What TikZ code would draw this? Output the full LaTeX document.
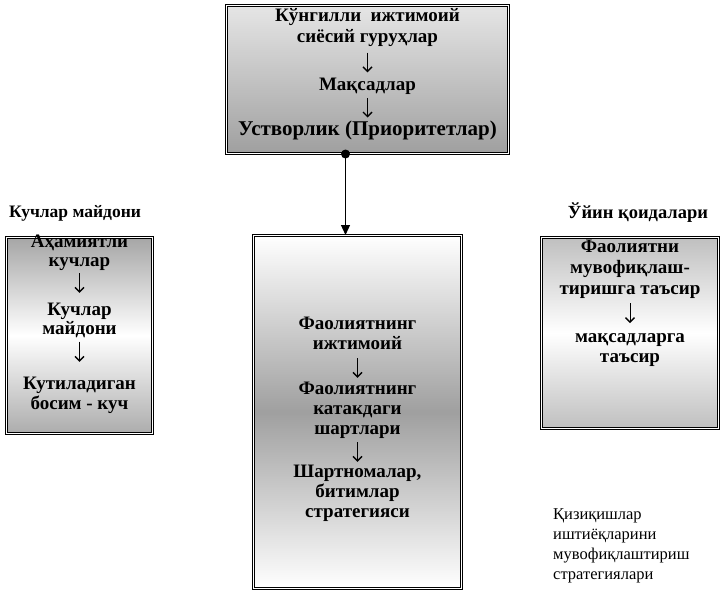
\documentclass[tikz,border=0pt]{standalone}
\usepackage{fontspec}
\setmainfont{Liberation Serif}
\usetikzlibrary{arrows.meta}
\begin{document}
\begin{tikzpicture}[x=1pt,y=-1pt,
  panel/.style={draw=black, line width=1pt, double=white, double distance=1.1pt,
    rectangle, inner sep=0pt, anchor=north west},
  body/.style={align=center, inner sep=0pt, anchor=north},
  flow/.style={line width=1pt, -{Straight Barb[length=4.5pt,width=9pt,line width=1.4pt]}},
  heading/.style={font=\bfseries\fontsize{17.5}{20}\selectfont, inner sep=0pt},
  note/.style={font=\fontsize{16.5}{20}\selectfont, align=left, inner sep=0pt, anchor=north west}]
\useasboundingbox[fill=white] (0,0) rectangle (722,590);

% panels
\node[panel, minimum width=282pt, minimum height=148pt, top color=gray!20, bottom color=gray!75] (top) at (226,5) {};
\node[panel, minimum width=146pt, minimum height=196pt, top color=gray!70, bottom color=gray!65, middle color=white] (left) at (6,237) {};
\node[panel, minimum width=208pt, minimum height=353pt, top color=white, bottom color=white, middle color=gray!75] (mid) at (253,235) {};
\node[panel, minimum width=177pt, minimum height=191pt, top color=gray!50, bottom color=gray!50, middle color=white] (right) at (541,237) {};

% top panel: groups, aims, priorities
\begin{scope}[every node/.append style={body, font=\bfseries\fontsize{19}{21}\selectfont}]
  \node (groups) at (top.north |- 0,8) {Кўнгилли\ \ ижтимоий\\ сиёсий гуруҳлар};
  \node (aims) at (top.north |- 0,77.4) {Мақсадлар};
  \node[font=\bfseries\fontsize{21}{23}\selectfont] (prior) at (top.north |- 0,121) {Устворлик (Приоритетлар)};
\end{scope}
\draw[flow, shorten <=6pt, shorten >=5pt] (groups.south) -- (aims.north);
\draw[flow, shorten <=4pt, shorten >=3.5pt] (aims.south) -- (prior.north);

% left panel: force field
\begin{scope}[every node/.append style={body, font=\bfseries\fontsize{19}{19}\selectfont}]
  \node (forces) at (left.north |- 0,234.6) {Аҳамиятли\\ кучлар};
  \node (field) at (left.north |- 0,302.9) {Кучлар\\ майдони};
  \node (press) at (left.north |- 0,376.9) {Кутиладиган\\[1pt] босим - куч};
\end{scope}
\draw[flow, shorten <=2.5pt, shorten >=10pt] (forces.south) -- (field.north);
\draw[flow, shorten <=3.5pt, shorten >=15pt] (field.south) -- (press.north);

% middle panel: activity and strategy
\begin{scope}[every node/.append style={body, font=\bfseries\fontsize{19}{20}\selectfont}]
  \node (social) at (mid.north |- 0,316.9) {Фаолиятнинг\\ ижтимоий};
  \node (terms) at (mid.north |- 0,381.9) {Фаолиятнинг\\ катакдаги\\ шартлари};
  \node (deals) at (mid.north |- 0,464.9) {Шартномалар,\\ битимлар\\ стратегияси};
\end{scope}
\draw[flow, shorten <=8.5pt, shorten >=4pt] (social.south) -- (terms.north);
\draw[flow, shorten <=3.5pt, shorten >=3pt] (terms.south) -- (deals.north);

% right panel: rules of the game
\begin{scope}[every node/.append style={body, font=\bfseries\fontsize{19}{21}\selectfont}]
  \node (coord) at (right.north |- 0,239.9) {Фаолиятни\\ мувофиқлаш-\\ тиришга таъсир};
  \node (goals) at (right.north |- 0,333.6) {мақсадларга\\[-1pt] таъсир};
\end{scope}
\draw[flow, shorten <=4.5pt, shorten >=10.5pt] (coord.south) -- (goals.north);

% headings and note
\node[heading] (forcefield) at (75,213) {Кучлар майдони};
\node[heading, font=\bfseries\fontsize{18.5}{20}\selectfont] (rules) at (638,213) {Ўйин қоидалари};
\node[note] (interests) at (553,508)
  {Қизиқишлар\\ иштиёқларини\\ мувофиқлаштириш\\ стратегиялари};

% connector from the top panel to the middle panel
\coordinate (joint) at ([xshift=-22pt]top.south);
\fill (joint) circle (4.5);
\draw[line width=1.2pt, -{Triangle[length=10pt,width=9pt]}] (joint) -- (joint |- mid.north);
\end{tikzpicture}
\end{document}
